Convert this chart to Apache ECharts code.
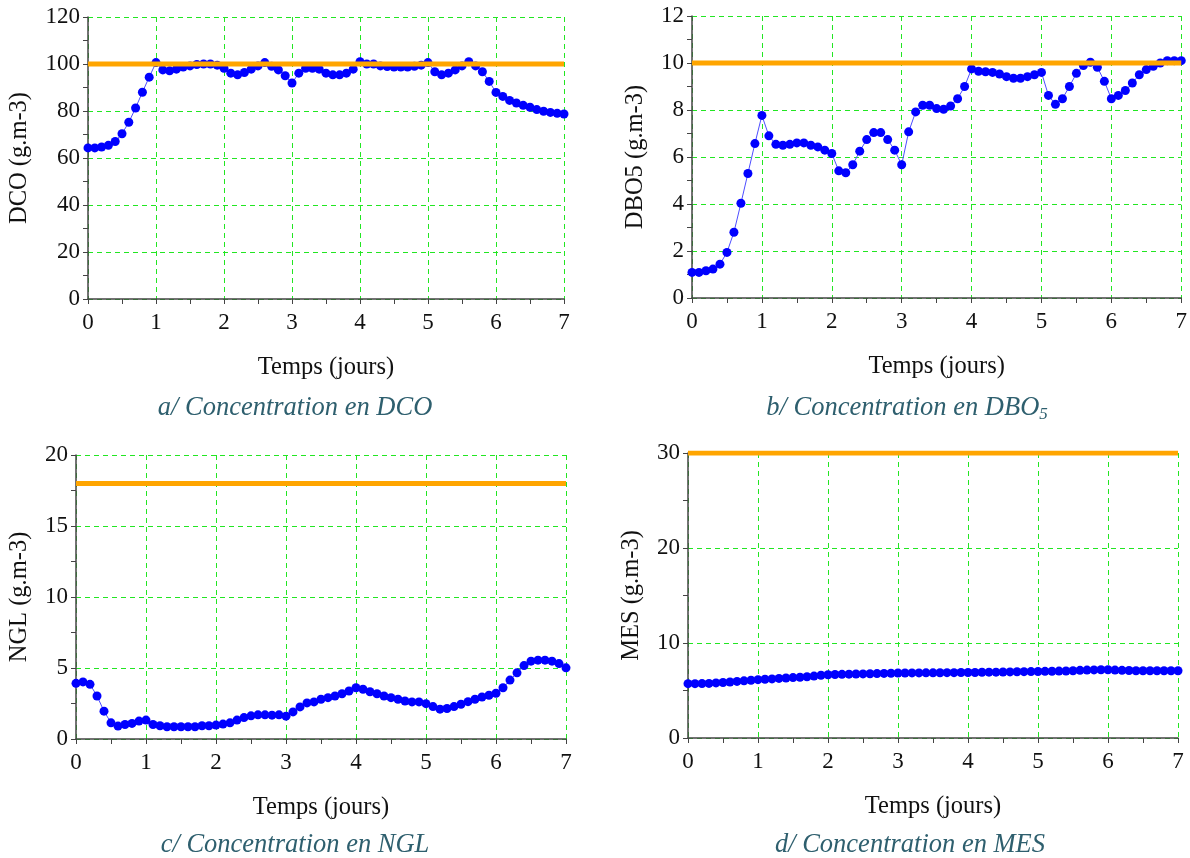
<!DOCTYPE html>
<html>
<head>
<meta charset="utf-8">
<script src="https://cdn.jsdelivr.net/npm/echarts@6/dist/echarts.min.js"></script>
<style>html,body{margin:0;padding:0;background:#fff}#c{width:1190px;height:858px}</style>
</head>
<body>
<div id="c"></div>
<script>
// time in days, step 0.1
const days = [];
for (let i = 0; i <= 70; i++) days.push(+(i / 10).toFixed(1));

const dco = [
  64.3, 64.3, 64.7, 65.4, 67.0, 70.3, 75.2, 81.3, 88.0, 94.4, 100.6,
  97.5, 97.1, 97.8, 98.7, 99.2, 99.8, 100, 100, 99.5, 98.2,
  96.1, 95.4, 96.4, 97.8, 99.2, 100.6, 99.0, 97.5, 95.0, 91.9,
  96.1, 98.2, 98.2, 97.8, 96.1, 95.4, 95.4, 96.1, 97.8, 101.0,
  100, 100, 99.2, 98.9, 98.7, 98.7, 98.7, 99.0, 99.5, 100.6,
  96.7, 95.4, 96.1, 97.5, 99.2, 101.0, 99.2, 96.7, 92.6, 87.9,
  86.2, 84.5, 83.4, 82.4, 81.6, 80.6, 79.9, 79.4, 79.0, 78.7
];
const dbo5 = [
  1.09, 1.09, 1.16, 1.23, 1.44, 1.94, 2.8, 4.03, 5.3, 6.57, 7.77,
  6.9, 6.54, 6.5, 6.54, 6.6, 6.6, 6.5, 6.43, 6.29, 6.15,
  5.41, 5.33, 5.67, 6.25, 6.74, 7.04, 7.04, 6.74, 6.29, 5.67,
  7.07, 7.92, 8.2, 8.2, 8.06, 8.03, 8.17, 8.48, 9.0, 9.75,
  9.65, 9.63, 9.6, 9.53, 9.42, 9.35, 9.35, 9.42, 9.5, 9.6,
  8.62, 8.24, 8.48, 9.0, 9.56, 9.89, 10.03, 9.82, 9.22, 8.48,
  8.62, 8.83, 9.15, 9.5, 9.72, 9.86, 10.0, 10.1, 10.1, 10.1
];
const ngl = [
  3.92, 4.02, 3.85, 3.03, 1.96, 1.14, 0.91, 1.02, 1.1, 1.26, 1.33,
  1.02, 0.93, 0.86, 0.86, 0.86, 0.86, 0.86, 0.93, 0.93, 0.98,
  1.05, 1.14, 1.33, 1.51, 1.63, 1.7, 1.7, 1.68, 1.7, 1.61,
  1.91, 2.26, 2.54, 2.61, 2.8, 2.91, 3.03, 3.19, 3.38, 3.61,
  3.5, 3.33, 3.19, 3.03, 2.91, 2.8, 2.68, 2.61, 2.61, 2.49,
  2.28, 2.1, 2.15, 2.28, 2.45, 2.63, 2.8, 2.96, 3.08, 3.22,
  3.61, 4.15, 4.66, 5.17, 5.48, 5.55, 5.55, 5.48, 5.31, 5.01
];
const mes = [
  5.72, 5.72, 5.73, 5.75, 5.8, 5.84, 5.9, 5.96, 6.02, 6.08, 6.14,
  6.18, 6.22, 6.27, 6.32, 6.36, 6.4, 6.45, 6.52, 6.6, 6.66,
  6.68, 6.7, 6.72, 6.74, 6.75, 6.76, 6.78, 6.8, 6.82, 6.84,
  6.84, 6.85, 6.85, 6.86, 6.86, 6.87, 6.88, 6.88, 6.9, 6.9,
  6.9, 6.92, 6.93, 6.93, 6.95, 6.96, 6.97, 6.98, 6.99, 7.0,
  7.02, 7.03, 7.04, 7.05, 7.08, 7.12, 7.15, 7.17, 7.18, 7.18,
  7.15, 7.12, 7.1, 7.08, 7.08, 7.08, 7.08, 7.08, 7.08, 7.08
];
// limit (norm) values
const limits = [100, 10, 18, 30];
const yMax = [120, 12, 20, 30];
const yInterval = [20, 2, 5, 10];
const yNames = ['DCO (g.m-3)', 'DBO5 (g.m-3)', 'NGL (g.m-3)', 'MES (g.m-3)'];
const xName = 'Temps (jours)';
const captions = [
  'a/ Concentration en DCO',
  'b/ Concentration en DBO{sub|5}',
  'c/ Concentration en NGL',
  'd/ Concentration en MES'
];
const seriesData = [dco, dbo5, ngl, mes];

const FONT = "'Liberation Serif', 'Times New Roman', serif";
const grids = [
  {left: 88, top: 17, width: 476, height: 282},
  {left: 692, top: 16, width: 490, height: 282},
  {left: 76, top: 455, width: 490, height: 284},
  {left: 688, top: 453, width: 490, height: 285}
];
const yNameGap = [56, 44, 44, 44];
const capPos = [[295, 408], [907, 408], [295, 845], [910, 845]];

const green = '#22e622';
const option = {
  animation: false,
  grid: grids.map(g => Object.assign({containLabel: false}, g)),
  xAxis: [], yAxis: [], series: [],
  graphic: []
};
for (let i = 0; i < 4; i++) {
  option.xAxis.push({
    type: 'value', gridIndex: i, min: 0, max: 7, interval: 1,
    name: xName, nameLocation: 'middle', nameGap: 56,
    nameTextStyle: {fontFamily: FONT, fontSize: 24.5, color: '#111'},
    axisLine: {show: true, onZero: false, lineStyle: {color: '#444', width: 1.5}},
    axisTick: {show: true, length: 5, lineStyle: {color: '#444'}},
    minorTick: {show: true, splitNumber: 2, length: 5, lineStyle: {color: '#444'}},
    axisLabel: {fontFamily: FONT, fontSize: 23, color: '#111', margin: 12},
    splitLine: {show: true, lineStyle: {color: green, type: [5, 4], width: 1}}
  });
  option.yAxis.push({
    type: 'value', gridIndex: i, min: 0, max: yMax[i], interval: yInterval[i],
    name: yNames[i], nameLocation: 'middle', nameGap: yNameGap[i], nameRotate: 90,
    nameTextStyle: {fontFamily: FONT, fontSize: 24.5, color: '#111'},
    axisLine: {show: true, onZero: false, lineStyle: {color: '#444', width: 1.5}},
    axisTick: {show: true, length: 5, lineStyle: {color: '#444'}},
    minorTick: {show: true, splitNumber: 2, length: 5, lineStyle: {color: '#444'}},
    axisLabel: {fontFamily: FONT, fontSize: 23, color: '#111', margin: 8},
    splitLine: {show: true, lineStyle: {color: green, type: [5, 4], width: 1}}
  });
  option.series.push({
    type: 'line', xAxisIndex: i, yAxisIndex: i,
    data: days.map((d, k) => [d, seriesData[i][k]]),
    symbol: 'circle', symbolSize: 9,
    itemStyle: {color: '#0000ff'},
    lineStyle: {color: '#4d4dff', width: 1},
    z: 3
  });
  option.series.push({
    type: 'line', xAxisIndex: i, yAxisIndex: i,
    data: [[0, limits[i]], [7, limits[i]]],
    symbol: 'none',
    lineStyle: {color: '#ffa500', width: 5},
    z: 5
  });
  option.graphic.push({
    type: 'text',
    x: capPos[i][0], y: capPos[i][1],
    style: {
      text: captions[i],
      fontFamily: FONT, fontSize: 26.5, fontStyle: 'italic',
      fill: '#2e5f6e', align: 'center', verticalAlign: 'middle',
      rich: {sub: {fontFamily: FONT, fontSize: 17, fontStyle: 'italic', fill: '#2e5f6e', verticalAlign: 'bottom', padding: [13, 0, 0, 0]}}
    }
  });
}
const chart = echarts.init(document.getElementById('c'), null, {renderer: 'canvas'});
chart.setOption(option);
</script>
</body>
</html>
